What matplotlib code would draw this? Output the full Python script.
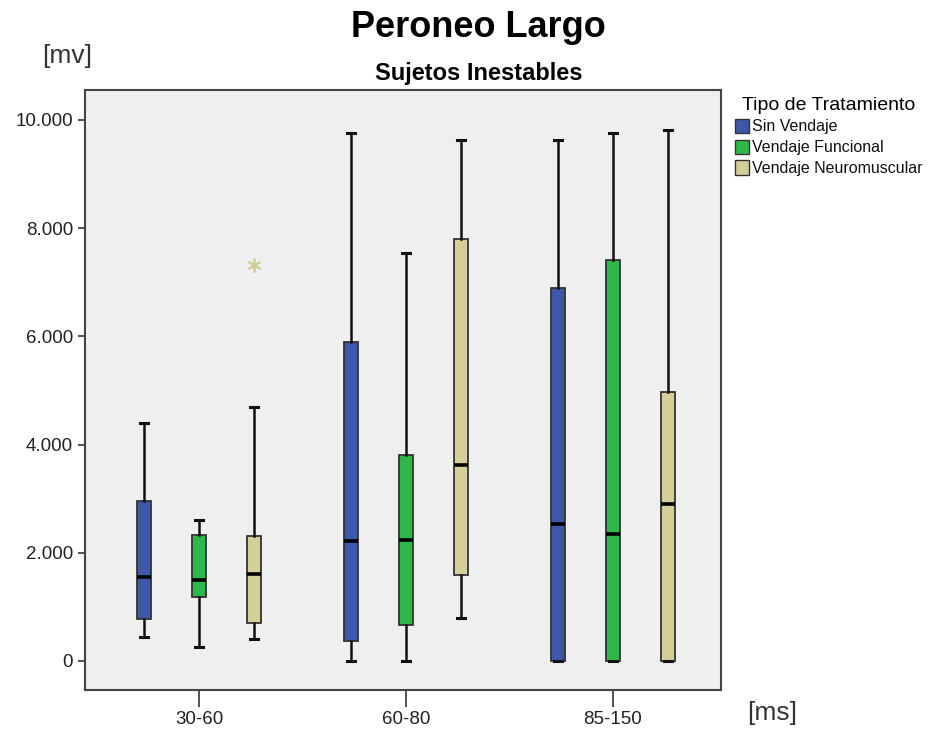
import matplotlib
matplotlib.use("Agg")
import matplotlib.pyplot as plt
import matplotlib.patches as mpatches
from matplotlib.ticker import FuncFormatter

plt.rcParams['font.family'] = ['Liberation Sans', 'DejaVu Sans']

# ── data ──
groups = ['30-60', '60-80', '85-150']
treatments = ['Sin Vendaje', 'Vendaje Funcional', 'Vendaje Neuromuscular']
colors = ['#3e57a9', '#2eb84a', '#d4cf98']

# per treatment, one value per group: whisker low, Q1, median, Q3, whisker high
whislo = {
    'Sin Vendaje': [443, 0, 0],
    'Vendaje Funcional': [264, 0, 0],
    'Vendaje Neuromuscular': [412, 793, 0],
}
q1 = {
    'Sin Vendaje': [770, 363, 0],
    'Vendaje Funcional': [1177, 661, 0],
    'Vendaje Neuromuscular': [702, 1586, 0],
}
med = {
    'Sin Vendaje': [1558, 2220, 2530],
    'Vendaje Funcional': [1497, 2227, 2345],
    'Vendaje Neuromuscular': [1614, 3614, 2907],
}
q3 = {
    'Sin Vendaje': [2962, 5900, 6891],
    'Vendaje Funcional': [2328, 3799, 7407],
    'Vendaje Neuromuscular': [2316, 7796, 4968],
}
whishi = {
    'Sin Vendaje': [4400, 9752, 9626],
    'Vendaje Funcional': [2611, 7532, 9752],
    'Vendaje Neuromuscular': [4688, 9633, 9805],
}
# extreme value (asterisk): Vendaje Neuromuscular, 30-60
outliers = {
    'Sin Vendaje': [[], [], []],
    'Vendaje Funcional': [[], [], []],
    'Vendaje Neuromuscular': [[7318], [], []],
}

fig = plt.figure(figsize=(9.31, 7.32), dpi=100)
ax = fig.add_axes([0.0913, 0.0574, 0.6831, 0.8197])
ax.set_facecolor('#efefef')

offsets = [-0.266, 0.0, 0.266]
for t, off, col in zip(treatments, offsets, colors):
    stats = []
    for i in range(len(groups)):
        stats.append(dict(whislo=whislo[t][i], q1=q1[t][i], med=med[t][i],
                          q3=q3[t][i], whishi=whishi[t][i],
                          fliers=outliers[t][i]))
    ax.bxp(stats, positions=[i + off for i in range(len(groups))],
           widths=0.068, patch_artist=True, showfliers=True,
           boxprops=dict(facecolor=col, edgecolor='#333333', linewidth=1.3),
           medianprops=dict(color='black', linewidth=2.6),
           whiskerprops=dict(color='#111111', linewidth=1.8),
           capprops=dict(color='#111111', linewidth=2.2),
           capwidths=0.04,
           flierprops=dict(marker=(6, 2, 0), markersize=10, markeredgewidth=1.3,
                           markeredgecolor='#d2cc98', markerfacecolor='none'))

ax.set_xlim(-0.551, 2.522)
ax.set_ylim(-536, 10552)
ax.set_xticks(range(len(groups)))
ax.set_xticklabels(groups, fontsize=13.5, color='#222222')
ax.set_yticks([0, 2000, 4000, 6000, 8000, 10000])
ax.yaxis.set_major_formatter(FuncFormatter(lambda v, p: f'{int(v):,}'.replace(',', '.')))
ax.tick_params(axis='y', labelsize=13.5, labelcolor='#222222', length=5, width=1.2,
               color='#333333')
ax.tick_params(axis='x', length=12, width=1.2, color='#333333', pad=3)
for s in ax.spines.values():
    s.set_color('#444444')
    s.set_linewidth(1.5)

# titles and unit labels
fig.text(0.514, 0.963, 'Peroneo Largo', ha='center', va='center',
         fontsize=26, fontweight='bold')
fig.text(0.514, 0.899, 'Sujetos Inestables', ha='center', va='center',
         fontsize=17, fontweight='bold')
fig.text(0.0725, 0.923, '[mv]', ha='center', va='center', fontsize=19, color='#333333')
fig.text(0.829, 0.026, '[ms]', ha='center', va='center', fontsize=19, color='#333333')

handles = [mpatches.Patch(facecolor=c, edgecolor='#333333', linewidth=1.0, label=t)
           for t, c in zip(treatments, colors)]
leg = fig.legend(handles=handles, title='Tipo de Tratamiento', loc='upper left',
                 bbox_to_anchor=(0.779, 0.881), frameon=False, fontsize=11.5,
                 title_fontsize=14, handlelength=0.9, handleheight=1.0,
                 handletextpad=0.2, labelspacing=0.32, borderpad=0.1)
for txt in leg.get_texts():
    txt.set_color('#111111')

fig.savefig('out.png', dpi=100)
